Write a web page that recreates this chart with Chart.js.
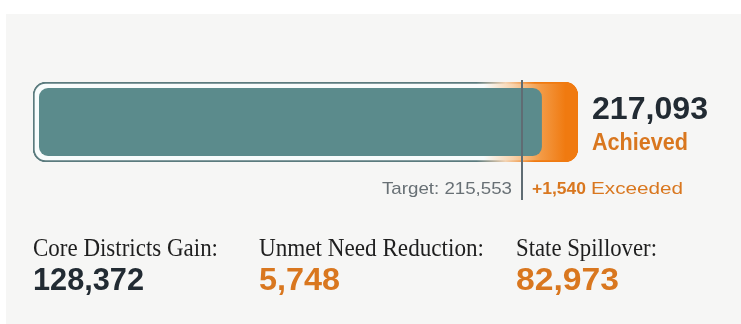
<!DOCTYPE html>
<html>
<head>
<meta charset="utf-8">
<script src="https://cdn.jsdelivr.net/npm/chart.js@4/dist/chart.umd.min.js"></script>
<style>
  html, body { margin: 0; padding: 0; background: #ffffff; }
  #wrap { width: 741px; height: 324px; }
</style>
</head>
<body>
<div id="wrap"><canvas id="goalChart" width="741" height="324"></canvas></div>
<script>
// progress bar data
const barLabels = ['Total'];
const achievedValues = [217093];
const targetValues = [215553];
const fillStart = 202265;
const fillValues = [216100];
const axisStart = 202100;

// breakdown under the bar
const componentLabels = ['Core Districts Gain:', 'Unmet Need Reduction:', 'State Spillover:'];
const componentValues = [128372, 5748, 82973];
const componentColors = ['#222b33', '#d9771f', '#d9771f'];
const componentX = [33, 259, 516];

const fmt = v => v.toLocaleString('en-US');

// draws text and stretches it horizontally to the given width
function fitText(ctx, text, x, y, width, align) {
    const w = ctx.measureText(text).width;
    const sx = width ? width / w : 1;
    ctx.save();
    ctx.translate(align === 'right' ? x - w * sx : x, y);
    ctx.scale(sx, 1);
    ctx.textAlign = 'left';
    ctx.fillText(text, 0, 0);
    ctx.restore();
    return w * sx;
}

const backdrop = {
    id: 'backdrop',
    beforeDraw(chart) {
        const ctx = chart.ctx;
        ctx.save();
        ctx.fillStyle = '#ffffff';
        ctx.fillRect(0, 0, chart.width, chart.height);
        ctx.fillStyle = '#f6f6f5';
        ctx.fillRect(6, 14, chart.width - 6, chart.height - 14);
        ctx.restore();
    }
};

const annotations = {
    id: 'annotations',
    afterDatasetsDraw(chart) {
        const ctx = chart.ctx;
        const x = chart.scales.x;
        const tx = Math.round(x.getPixelForValue(targetValues[0]));
        ctx.save();
        ctx.strokeStyle = '#5f6c73';
        ctx.lineWidth = 2;
        ctx.beginPath();
        ctx.moveTo(tx, 80);
        ctx.lineTo(tx, 200);
        ctx.stroke();
        ctx.restore();
    },
    afterDraw(chart) {
        const ctx = chart.ctx;
        const x = chart.scales.x;
        const ax = x.getPixelForValue(achievedValues[0]);
        const tx = x.getPixelForValue(targetValues[0]);
        ctx.save();
        ctx.textBaseline = 'alphabetic';

        // achieved total
        ctx.fillStyle = '#222b33';
        ctx.font = 'bold 32px "Liberation Sans", Arial, sans-serif';
        fitText(ctx, fmt(achievedValues[0]), ax + 14, 119, 116);
        ctx.fillStyle = '#d9771f';
        ctx.font = 'bold 23px "Liberation Sans", Arial, sans-serif';
        fitText(ctx, 'Achieved', ax + 14, 150, 96);

        // target and excess beside the line
        ctx.fillStyle = '#687075';
        ctx.font = '17px "Liberation Sans", Arial, sans-serif';
        fitText(ctx, 'Target: ' + fmt(targetValues[0]), tx - 10, 194, 130, 'right');
        ctx.fillStyle = '#d9771f';
        ctx.font = 'bold 17px "Liberation Sans", Arial, sans-serif';
        const w1 = fitText(ctx, '+' + fmt(achievedValues[0] - targetValues[0]), tx + 10, 194, 54);
        ctx.font = '17px "Liberation Sans", Arial, sans-serif';
        fitText(ctx, 'Exceeded', tx + 10 + w1 + 5, 194, 92);

        // breakdown
        const labelWidths = [185, 225, 141];
        const valueWidths = [111, 81, 103];
        componentLabels.forEach((label, i) => {
            ctx.fillStyle = '#1e1e1e';
            ctx.font = '25px "Liberation Serif", "Times New Roman", serif';
            fitText(ctx, label, componentX[i], 256, labelWidths[i]);
            ctx.fillStyle = componentColors[i];
            ctx.font = 'bold 31px "Liberation Sans", Arial, sans-serif';
            fitText(ctx, fmt(componentValues[i]), componentX[i], 290, valueWidths[i]);
        });
        ctx.restore();
    }
};

function orangeFill(context) {
    const chart = context.chart;
    if (!chart.chartArea) return '#f07a10';
    const x = chart.scales.x;
    const g = chart.ctx.createLinearGradient(x.getPixelForValue(214500), 0, x.getPixelForValue(216750), 0);
    g.addColorStop(0, 'rgba(248, 252, 252, 1)');
    g.addColorStop(0.35, '#f8d3ad');
    g.addColorStop(0.7, '#f39a45');
    g.addColorStop(1, '#f07a10');
    return g;
}

function trackBorder(context) {
    const chart = context.chart;
    if (!chart.chartArea) return '#5b7b7e';
    const x = chart.scales.x;
    const g = chart.ctx.createLinearGradient(x.getPixelForValue(214300), 0, x.getPixelForValue(215900), 0);
    g.addColorStop(0, '#5b7b7e');
    g.addColorStop(0.5, '#f3d2b0');
    g.addColorStop(1, '#f07a10');
    return g;
}

new Chart(document.getElementById('goalChart').getContext('2d'), {
    type: 'bar',
    data: {
        labels: barLabels,
        datasets: [
            {
                label: 'Filled',
                data: fillValues.map(v => [fillStart, v]),
                backgroundColor: '#5b8b8c',
                borderRadius: 9,
                borderSkipped: false,
                barPercentage: 0.85,
                categoryPercentage: 1,
                grouped: false,
                order: 1
            },
            {
                label: 'Achieved',
                data: achievedValues.map(v => [axisStart, v]),
                backgroundColor: orangeFill,
                borderColor: trackBorder,
                borderWidth: 2,
                borderRadius: 13,
                borderSkipped: false,
                barPercentage: 1,
                categoryPercentage: 1,
                grouped: false,
                order: 2
            }
        ]
    },
    options: {
        indexAxis: 'y',
        responsive: false,
        animation: false,
        layout: { padding: { left: 33, right: 163, top: 82, bottom: 162 } },
        scales: {
            x: { display: false, min: axisStart, max: achievedValues[0] },
            y: { display: false }
        },
        plugins: {
            legend: { display: false },
            tooltip: { enabled: false }
        }
    },
    plugins: [backdrop, annotations]
});
</script>
</body>
</html>
